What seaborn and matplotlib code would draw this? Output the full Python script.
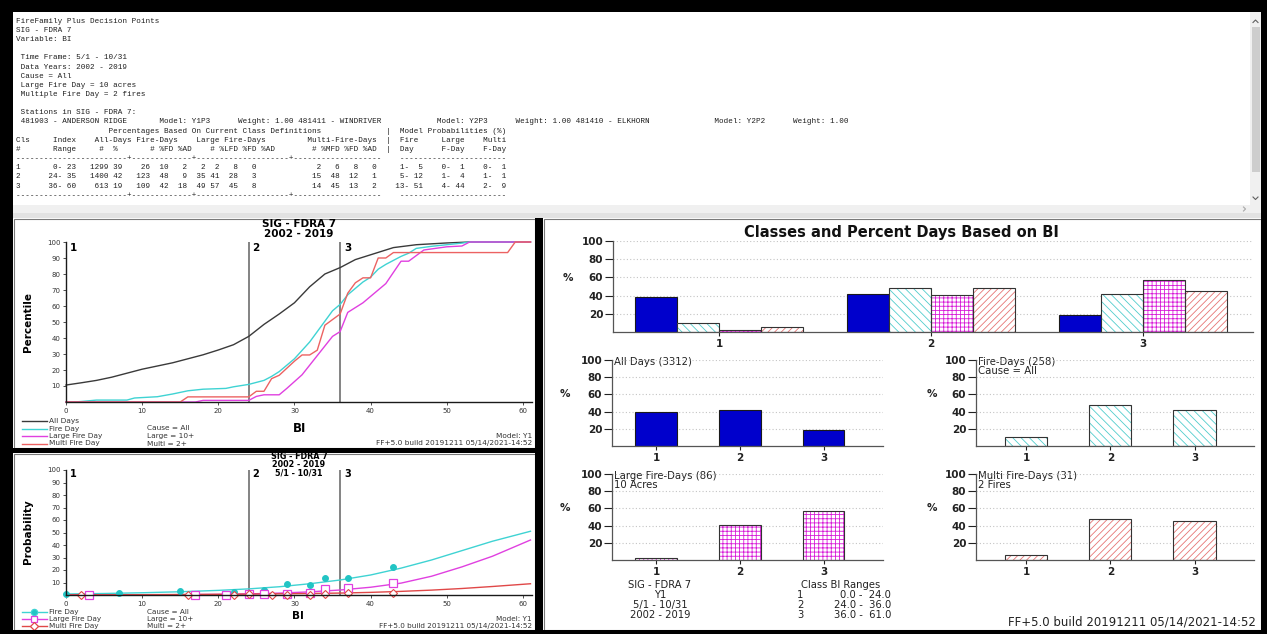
import matplotlib
matplotlib.use("Agg")
import matplotlib.pyplot as plt
from matplotlib.patches import Rectangle
import numpy as np
import pandas as pd
import seaborn as sns

W, H = 1267, 634

# ---------------- report values ----------------
area = "SIG - FDRA 7"
time_frame = "5/1 - 10/31"
years = "2002 - 2019"
fire_model = "Y1"
build = "FF+5.0 build 20191211 05/14/2021-14:52"
large_acres = 10
multi_fires = 2

stations = ["481903 - ANDERSON RIDGE", "481411 - WINDRIVER", "481410 - ELKHORN"]
station_models = ["Y1P3", "Y2P3", "Y2P2"]
station_weights = [1.00, 1.00, 1.00]

classes = [1, 2, 3]
index_lo = [0, 24, 36]
index_hi = [23, 35, 60]
class_lo = [0.0, 24.0, 36.0]
class_hi = [24.0, 36.0, 61.0]

all_days_n = [1299, 1400, 613]
all_days_pct = [39, 42, 19]
fire_n = [26, 123, 109]
fire_pct_fd = [10, 48, 42]
fire_pct_ad = [2, 9, 18]
large_n = [2, 35, 49]
large_pct_lfd = [2, 41, 57]
large_pct_fd = [8, 28, 45]
large_pct_ad = [0, 3, 8]
multi_n = [2, 15, 14]
multi_pct_mfd = [6, 48, 45]
multi_pct_fd = [8, 12, 13]
multi_pct_ad = [0, 1, 2]

prob_fire_lo = [1, 5, 13]
prob_fire_hi = [5, 12, 51]
prob_large_lo = [0, 1, 4]
prob_large_hi = [1, 4, 44]
prob_multi_lo = [0, 1, 2]
prob_multi_hi = [1, 1, 9]

# cumulative percentile curves
all_bi = [0, 2, 4, 6, 8, 10, 12, 14, 16, 18, 20, 22, 24, 26, 28, 30, 32, 34, 36, 38, 40, 43, 46, 50, 53, 61]
all_pct = [10.6, 12, 13.5, 15.5, 18, 20.5, 22.5, 24.5, 27, 29.5, 32.5, 35.8, 41, 48.5, 55, 62, 72, 80, 84,
           89, 92, 96.5, 98.3, 99.4, 100, 100]
fire_bi = [0, 1, 2, 4, 8, 9, 12, 14, 16, 18, 21, 22, 24, 26, 27, 28, 30, 32, 33, 35, 36, 37, 38, 39, 40, 41,
           42, 44, 45, 46, 48, 50, 52, 53, 61]
fire_pct = [0, 0, 0.3, 1.2, 1.2, 2.5, 3.3, 5, 7, 8, 8.5, 9.5, 11, 13.5, 16, 19, 27, 37.5, 44, 57, 61, 67, 71,
            75, 78, 83, 86, 91, 93, 96, 97.3, 98.3, 99.3, 100, 100]
large_bi = [0, 17, 18, 24, 25, 26, 28, 29, 31, 33, 35, 36, 37, 39, 41, 42, 44, 45, 47, 50, 52, 53, 61]
large_pct = [0, 0, 1, 1, 3.5, 4.5, 4.5, 8.5, 17, 29, 41, 44, 56, 62, 70, 74, 88, 88, 95, 97, 97.5, 100, 100]
multi_bi = [0, 15, 16, 24, 25, 26, 27, 28, 30, 31, 32, 33, 34, 36, 37, 38, 39, 40, 41, 42, 43, 58, 59, 61]
multi_pct = [0, 0, 3.2, 3.2, 6.7, 6.7, 14.6, 16.7, 25.5, 29.4, 29.4, 32.4, 48, 55, 68, 74.5, 77.6, 77.6, 90,
             90, 93.4, 93.4, 100, 100]

# fitted probability curves
prob_bi = [0, 5, 10, 15, 20, 24, 28, 32, 36, 40, 44, 48, 52, 56, 61]
prob_fire = [0.8, 1.2, 1.8, 2.6, 3.7, 4.9, 6.6, 9, 12, 16, 21.5, 28, 35.5, 43, 51]
prob_large = [0.05, 0.08, 0.15, 0.27, 0.5, 0.9, 1.5, 2.5, 4, 6.2, 9.5, 15, 22.5, 31, 44]
prob_multi = [0.1, 0.17, 0.25, 0.4, 0.55, 0.75, 0.95, 1.2, 1.55, 2.1, 2.9, 3.9, 5.2, 6.8, 9]

# observed probabilities
obs_fire_bi = [0, 7, 15, 22, 26, 29, 32, 34, 37, 43]
obs_fire = [0.5, 2, 3.5, 2.5, 3.7, 9, 8, 13.5, 13.5, 22.5]
obs_large_bi = [3, 17, 21, 24, 26, 29, 32, 34, 37, 43]
obs_large = [0, 0, 0, 0.5, 0.5, 1, 2, 5, 5.5, 10]
obs_multi_bi = [2, 16, 22, 24, 27, 29, 32, 34, 37, 43]
obs_multi = [0, 0, 0, 0.5, 0, 0, 0, 1, 2, 1.5]

series_names = ["All Days", "Fire Day", "Large Fire Day", "Multi Fire Day"]

C_ALL = "#3a3a3a"
C_FIRE = "#3fd3d3"
C_LARGE = "#e040e0"
C_MULTI = "#ec6262"
BLUE = "#0000cc"
H_FIRE = "#52cccc"
H_LARGE = "#d81cd8"
H_MULTI = "#e67474"

plt.rcParams["font.family"] = ["DejaVu Sans"]
plt.rcParams["hatch.linewidth"] = 0.6

fig = plt.figure(figsize=(W / 100, H / 100), dpi=100)
fig.patch.set_facecolor("white")

bg = fig.add_axes([0, 0, 1, 1])
bg.set_xlim(0, W)
bg.set_ylim(H, 0)
bg.axis("off")


def rect(x0, y0, x1, y1, fc, ec="none", lw=0.0, z=0):
    bg.add_patch(Rectangle((x0, y0), x1 - x0, y1 - y0, facecolor=fc, edgecolor=ec, linewidth=lw, zorder=z))


def px_axes(x0, y0, x1, y1):
    ax = fig.add_axes([x0 / W, 1 - y1 / H, (x1 - x0) / W, (y1 - y0) / H])
    ax.set_facecolor("none")
    return ax


# ---------------- window chrome ----------------
rect(13, 12, 1250, 205, "white")
rect(1250, 12, 1261, 205, "#f0f0f0")
rect(1251.5, 27, 1259.5, 172, "#cdcdcd")
rect(13, 205, 1261, 213, "#f0f0f0")
rect(13, 213, 1261, 218, "#e2e2e2")
bg.plot([1253, 1255.5, 1258], [22.5, 20, 22.5], color="#606060", lw=0.8)
bg.plot([1253, 1255.5, 1258], [197, 199.5, 197], color="#606060", lw=0.8)
bg.plot([1243.5, 1245.5, 1243.5], [207, 209, 211], color="#a8a8a8", lw=0.8)

rect(13.5, 218.5, 534.5, 447.5, "white", ec="#7a7a7a", lw=0.8)
rect(13.5, 453.5, 534.5, 629.5, "white", ec="#7a7a7a", lw=0.8)
rect(543.5, 218.5, 1260.5, 629.5, "white", ec="#7a7a7a", lw=0.8)

rect(0, 0, W, 12, "black", z=5)
rect(0, 0, 13, H, "black", z=5)
rect(1261, 0, W, H, "black", z=5)
rect(0, 630, W, H, "black", z=5)
rect(535, 218, 543, H, "black", z=5)
rect(13, 448, 535, 453, "black", z=5)


# ---------------- text report ----------------
def place(fields):
    buf = [" "] * 130
    for col, s in fields:
        buf[col:col + len(s)] = list(s)
    return "".join(buf).rstrip()


station_line = " "
for name, mdl, wt in zip(stations, station_models, station_weights):
    station_line += f"{name:<30}{'Model: ' + mdl:<17}Weight: {wt:.2f} "
station_line = station_line.rstrip()


def dashes():
    left = ["-"] * 79
    for c in (24, 38, 59):
        left[c] = "+"
    return "".join(left) + "    " + "-" * 23


report = [
    "FireFamily Plus Decision Points",
    area,
    "Variable: BI",
    "",
    f" Time Frame: {time_frame}",
    f" Data Years: {years}",
    " Cause = All",
    f" Large Fire Day = {large_acres} acres",
    f" Multiple Fire Day = {multi_fires} fires",
    "",
    f" Stations in {area}:",
    station_line,
    place([(20, "Percentages Based On Current Class Definitions"), (80, "|"),
           (83, "Model Probabilities (%)")]),
    place([(0, "Cls"), (8, "Index"), (17, "All-Days"), (26, "Fire-Days"), (39, "Large Fire-Days"),
           (63, "Multi-Fire-Days"), (80, "|"), (83, "Fire"), (92, "Large"), (101, "Multi")]),
    place([(0, "#"), (8, "Range"), (18, "#"), (21, "%"), (29, "# %FD %AD"), (42, "# %LFD %FD %AD"),
           (64, "# %MFD %FD %AD"), (80, "|"), (83, "Day"), (92, "F-Day"), (101, "F-Day")]),
    dashes(),
]
for i in range(3):
    report.append(place([
        (0, str(classes[i])), (7, f"{index_lo[i]:2d}-{index_hi[i]:3d}"),
        (16, f"{all_days_n[i]:4d}"), (21, f"{all_days_pct[i]:2d}"),
        (26, f"{fire_n[i]:3d}"), (30, f"{fire_pct_fd[i]:3d}"), (34, f"{fire_pct_ad[i]:3d}"),
        (38, f"{large_n[i]:3d}"), (41, f"{large_pct_lfd[i]:3d}"), (45, f"{large_pct_fd[i]:3d}"),
        (48, f"{large_pct_ad[i]:4d}"),
        (63, f"{multi_n[i]:3d}"), (66, f"{multi_pct_mfd[i]:4d}"), (70, f"{multi_pct_fd[i]:4d}"),
        (74, f"{multi_pct_ad[i]:4d}"),
        (82, f"{prob_fire_lo[i]:2d}-{prob_fire_hi[i]:3d}"),
        (91, f"{prob_large_lo[i]:2d}-{prob_large_hi[i]:3d}"),
        (100, f"{prob_multi_lo[i]:2d}-{prob_multi_hi[i]:3d}"),
    ]))
report.append(dashes())

for i, line in enumerate(report):
    if line:
        bg.text(15.7, 21.3 + 9.15 * i, line, family="Liberation Mono", fontsize=5.5,
                va="center", ha="left", color="#1e1e1e")

# ---------------- left charts ----------------
TICK_KW = dict(labelsize=5, length=2.5, width=0.6, colors="#333333", pad=1.5)


def style_left(ax, ylim_top):
    ax.set_xlim(0, 61.2)
    ax.set_ylim(0, ylim_top)
    ax.set_xticks(range(0, 61, 10))
    ax.set_yticks(range(10, 101, 10))
    ax.tick_params(**TICK_KW)
    ax.set_xlabel("")
    ax.set_ylabel("")
    sns.despine(ax=ax)
    for s in ("left", "bottom"):
        ax.spines[s].set_color("#1a1a1a")
        ax.spines[s].set_linewidth(1.0)


# Cumulative percentile chart
ax1 = px_axes(66, 242, 532, 402)
for xs, ys, col in ((all_bi, all_pct, C_ALL), (fire_bi, fire_pct, C_FIRE),
                    (large_bi, large_pct, C_LARGE), (multi_bi, multi_pct, C_MULTI)):
    sns.lineplot(x=xs, y=ys, color=col, lw=1.0, ax=ax1, estimator=None, sort=False,
                 legend=False, clip_on=False)
for b in class_lo[1:]:
    ax1.axvline(b, color="#6e6e6e", lw=1.2, zorder=1)
for c, b in zip(classes, class_lo):
    ax1.text(b + 0.5, 96, str(c), fontsize=7.5, fontweight="bold", va="center", ha="left")
style_left(ax1, 100)

bg.text(299, 224, area, fontsize=7.5, fontweight="bold", ha="center", va="center")
bg.text(299, 234, years, fontsize=7.5, fontweight="bold", ha="center", va="center")
bg.text(28, 322, "Percentile", fontsize=7.5, fontweight="bold", rotation=90, ha="center", va="center")
bg.text(300, 428, "BI", fontsize=8.5, fontweight="bold", ha="center", va="center")

for lab, col, y in zip(series_names, (C_ALL, C_FIRE, C_LARGE, C_MULTI), (421, 428.5, 436, 443.5)):
    bg.plot([22, 47], [y, y], color=col, lw=1.0)
    bg.text(49, y, lab, fontsize=5.3, va="center", ha="left", color="#333333")
for txt, y in zip(("Cause = All", f"Large = {large_acres}+", f"Multi = {multi_fires}+"), (428.5, 436, 443.5)):
    bg.text(146.7, y, txt, fontsize=5.3, va="center", ha="left", color="#333333")
bg.text(532, 436, f"Model: {fire_model}", fontsize=5.3, va="center", ha="right", color="#333333")
bg.text(532, 443.5, build, fontsize=5.3, va="center", ha="right", color="#333333")

# Probability chart
ax2 = px_axes(66, 470, 532, 595)
for xs, ys, col in ((prob_bi, prob_fire, C_FIRE), (prob_bi, prob_large, C_LARGE),
                    (prob_bi, prob_multi, "#e04848")):
    sns.lineplot(x=xs, y=ys, color=col, lw=1.0, ax=ax2, estimator=None, sort=False, legend=False)
sns.lineplot(x=obs_fire_bi, y=obs_fire, ax=ax2, estimator=None, sort=False, legend=False,
             linestyle="", marker="o", ms=4.2, mfc="#22c4c4", mec="#22c4c4", clip_on=False)
sns.lineplot(x=obs_large_bi, y=obs_large, ax=ax2, estimator=None, sort=False, legend=False,
             linestyle="", marker="s", ms=5.5, mfc="white", mec=C_LARGE, mew=0.9, clip_on=False)
sns.lineplot(x=obs_multi_bi, y=obs_multi, ax=ax2, estimator=None, sort=False, legend=False,
             linestyle="", marker="D", ms=3.6, mfc="white", mec="#e04848", mew=0.8, clip_on=False)
for b in class_lo[1:]:
    ax2.axvline(b, color="#6e6e6e", lw=1.2, zorder=1)
for c, b in zip(classes, class_lo):
    ax2.text(b + 0.5, 97, str(c), fontsize=7, fontweight="bold", va="center", ha="left")
style_left(ax2, 100)

for txt, y in zip((area, years, time_frame), (456.5, 464.5, 472.5)):
    bg.text(299, y, txt, fontsize=5.8, fontweight="bold", ha="center", va="center")
bg.text(28, 532, "Probability", fontsize=7.5, fontweight="bold", rotation=90, ha="center", va="center")
bg.text(298, 616, "BI", fontsize=7.5, fontweight="bold", ha="center", va="center")

for lab, col, mk, fc, y in zip(series_names[1:], (C_FIRE, C_LARGE, "#e04848"), ("o", "s", "D"),
                               ("#22c4c4", "white", "white"), (612, 619, 626)):
    bg.plot([22, 47], [y, y], color=col, lw=1.0)
    bg.plot([34], [y], marker=mk, ms=4.5 if mk != "D" else 3.6, mfc=fc, mec=col, mew=0.9)
    bg.text(49, y, lab, fontsize=5.2, va="center", ha="left", color="#333333")
for txt, y in zip(("Cause = All", f"Large = {large_acres}+", f"Multi = {multi_fires}+"), (612, 619, 626)):
    bg.text(146.7, y, txt, fontsize=5.2, va="center", ha="left", color="#333333")
bg.text(532, 619, f"Model: {fire_model}", fontsize=5.2, va="center", ha="right", color="#333333")
bg.text(532, 626, build, fontsize=5.2, va="center", ha="right", color="#333333")

# ---------------- right panel: class bar charts ----------------
bar_styles = {
    "All Days": (BLUE, None),
    "Fire Day": (H_FIRE, "\\\\\\\\"),
    "Large Fire Day": (H_LARGE, "++++"),
    "Multi Fire Day": (H_MULTI, "/////"),
}


def restyle(ax, container, series):
    color, hatch = bar_styles[series]
    for bar in container:
        if hatch is None:
            bar.set_facecolor(color)
            bar.set_edgecolor("#1a1a1a")
            bar.set_linewidth(0.8)
            continue
        bar.set_facecolor("white")
        bar.set_edgecolor(color)
        bar.set_hatch(hatch)
        bar.set_linewidth(0)
        ax.add_patch(Rectangle(bar.get_xy(), bar.get_width(), bar.get_height(), fill=False,
                               edgecolor="#333333", linewidth=0.8, zorder=bar.get_zorder() + 0.1))


def style_right(ax, xlim):
    ax.set_xlim(*xlim)
    ax.set_ylim(0, 100)
    ax.set_yticks([20, 40, 60, 80, 100])
    ax.set_xlabel("")
    ax.set_ylabel("")
    ax.tick_params(axis="y", labelsize=7.5, length=6, width=0.8, colors="#222222", pad=1)
    ax.tick_params(axis="x", labelsize=7.5, length=3, width=0.8, colors="#222222", pad=2)
    for lab in ax.get_yticklabels() + ax.get_xticklabels():
        lab.set_fontweight("bold")
    ax.yaxis.grid(True, linestyle=(0, (1, 2)), color="#c4c4c4", lw=0.8)
    ax.set_axisbelow(True)
    sns.despine(ax=ax)
    for s in ("left", "bottom"):
        ax.spines[s].set_color("#555555")
        ax.spines[s].set_linewidth(0.9)


cls_labels = [str(c) for c in classes]
df_top = pd.DataFrame({
    "cls": cls_labels * 4,
    "series": [s for s in series_names for _ in classes],
    "pct": all_days_pct + fire_pct_fd + large_pct_lfd + multi_pct_mfd,
})
ax3 = px_axes(613, 241, 1253, 332)
sns.barplot(data=df_top, x="cls", y="pct", hue="series", hue_order=series_names,
            palette=[bar_styles[s][0] for s in series_names], width=0.79, gap=0, dodge=True,
            legend=False, saturation=1, errorbar=None, ax=ax3)
for cont, s in zip(ax3.containers, series_names):
    restyle(ax3, cont, s)
style_right(ax3, (-0.5, 2.52))
bg.text(901, 233, "Classes and Percent Days Based on BI", fontsize=10.5, fontweight="bold",
        ha="center", va="center", color="#111111")
bg.text(568, 278, "%", fontsize=7.5, fontweight="bold", ha="center", va="center", color="#222222")

small = [
    ("All Days", all_days_pct, (612, 360, 883, 446), (-0.525, 2.71),
     [f"All Days ({sum(all_days_n)})"], 565),
    ("Fire Day", fire_pct_fd, (976, 360, 1254, 446), (-0.593, 2.705),
     [f"Fire-Days ({sum(fire_n)})", "Cause = All"], 932),
    ("Large Fire Day", large_pct_lfd, (612, 474, 883, 560), (-0.525, 2.71),
     [f"Large Fire-Days ({sum(large_n)})", f"{large_acres} Acres"], 565),
    ("Multi Fire Day", multi_pct_mfd, (976, 474, 1254, 560), (-0.593, 2.705),
     [f"Multi Fire-Days ({sum(multi_n)})", f"{multi_fires} Fires"], 932),
]
for series, vals, (x0, y0, x1, y1), xl, titles, pct_x in small:
    ax = px_axes(x0, y0, x1, y1)
    sns.barplot(x=cls_labels, y=vals, color=bar_styles[series][0], width=0.5, saturation=1,
                errorbar=None, ax=ax)
    restyle(ax, ax.containers[0], series)
    style_right(ax, xl)
    for k, t in enumerate(titles):
        bg.text(x0 + 2, y0 + 2 + 9.5 * k, t, fontsize=7.3, ha="left", va="center", color="#222222")
    bg.text(pct_x, y1 - 0.6 * (y1 - y0), "%", fontsize=7.5, fontweight="bold", ha="center",
            va="center", color="#222222")

for txt, y in zip((area, fire_model, time_frame, years), (585, 595, 605, 615)):
    bg.text(660, y, txt, fontsize=7.2, ha="center", va="center", color="#222222")
bg.text(841, 585, "Class BI Ranges", fontsize=7.2, ha="center", va="center", color="#222222")
for c, lo, hi, y in zip(classes, class_lo, class_hi, (595, 605, 615)):
    bg.text(797, y, str(c), fontsize=7.2, ha="left", va="center", color="#222222")
    bg.text(891, y, f"{lo:.1f} -  {hi:.1f}", fontsize=7.2, ha="right", va="center", color="#222222")
bg.text(1256, 622, build, fontsize=8.5, ha="right", va="center", color="#222222")

fig.savefig("out.png", dpi=100, facecolor="white")
